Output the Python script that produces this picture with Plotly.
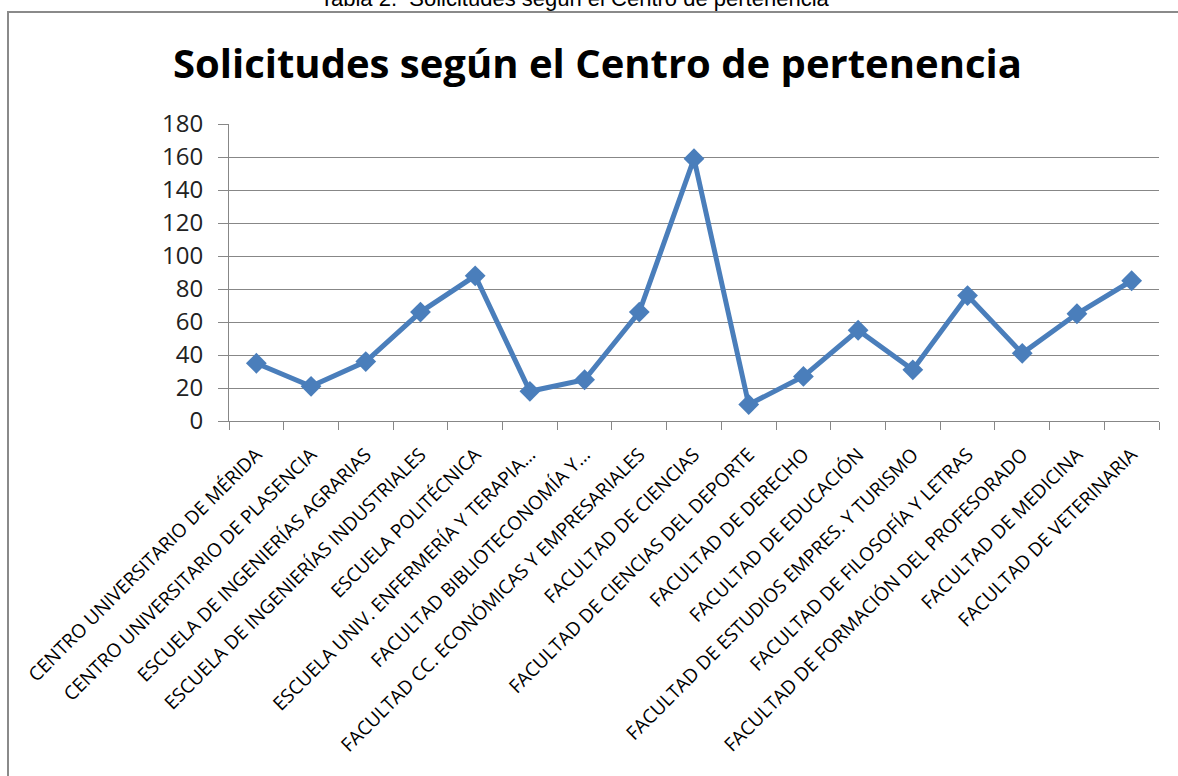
import plotly.graph_objects as go

categories = [
    "CENTRO UNIVERSITARIO DE MÉRIDA",
    "CENTRO UNIVERSITARIO DE PLASENCIA",
    "ESCUELA DE INGENIERÍAS AGRARIAS",
    "ESCUELA DE INGENIERÍAS INDUSTRIALES",
    "ESCUELA POLITÉCNICA",
    "ESCUELA UNIV. ENFERMERÍA Y TERAPIA...",
    "FACULTAD BIBLIOTECONOMÍA Y...",
    "FACULTAD CC. ECONÓMICAS Y EMPRESARIALES",
    "FACULTAD DE CIENCIAS",
    "FACULTAD DE CIENCIAS DEL DEPORTE",
    "FACULTAD DE DERECHO",
    "FACULTAD DE EDUCACIÓN",
    "FACULTAD DE ESTUDIOS EMPRES. Y TURISMO",
    "FACULTAD DE FILOSOFÍA Y LETRAS",
    "FACULTAD DE FORMACIÓN DEL PROFESORADO",
    "FACULTAD DE MEDICINA",
    "FACULTAD DE VETERINARIA",
]
solicitudes = [35, 21, 36, 66, 88, 18, 25, 66, 159, 10, 27, 55, 31, 76, 41, 65, 85]
y_ticks = [0, 20, 40, 60, 80, 100, 120, 140, 160, 180]

W, H = 1178, 776
L, R, T, B = 229, 19, 124, 355
pw, ph = W - L - R, H - T - B

def px_x(p):
    return (p - L) / pw

def px_y(p):
    return (H - B - p) / ph

grid = "#878787"
blue = "#4A7EBB"

fig = go.Figure()
fig.add_trace(go.Scatter(
    x=categories, y=solicitudes, mode="lines+markers",
    line=dict(color=blue, width=5),
    marker=dict(symbol="diamond", size=16, color=blue),
    showlegend=False,
))

fig.update_layout(
    width=W, height=H,
    margin=dict(l=L, r=R, t=T, b=B),
    paper_bgcolor="white", plot_bgcolor="white",
    font=dict(family="Open Sans", color="black"),
    xaxis=dict(
        type="category", range=[-0.5, len(categories) - 0.5],
        tickson="boundaries", ticks="outside", ticklen=8, tickcolor=grid,
        showline=True, linecolor=grid, linewidth=1, showgrid=False,
        tickangle=-45, tickfont=dict(family="Open Sans", size=19, color="black"),
        ticklabelstandoff=14, automargin=False,
    ),
    yaxis=dict(
        range=[0, 180], tickvals=y_ticks, ticks="outside", ticklen=10,
        tickcolor=grid, showline=True, linecolor=grid, linewidth=1,
        showgrid=True, gridcolor=grid, gridwidth=1, zeroline=False,
        tickfont=dict(family="Open Sans", size=24, color="#222"),
        ticklabelstandoff=10, automargin=False,
    ),
    shapes=[dict(
        type="rect", xref="paper", yref="paper",
        x0=px_x(8), x1=px_x(1195), y0=px_y(800), y1=px_y(12),
        line=dict(color="#8a8a8a", width=2), fillcolor="rgba(0,0,0,0)",
        layer="below",
    )],
    annotations=[
        dict(
            text="<b>Solicitudes según el Centro de pertenencia</b>",
            xref="paper", yref="paper", x=px_x(597), y=px_y(62),
            xanchor="center", yanchor="middle", showarrow=False,
            font=dict(family="Open Sans", size=40, color="black"),
        ),
        dict(
            text="Tabla 2.  Solicitudes según el Centro de pertenencia",
            xref="paper", yref="paper", x=px_x(575), y=px_y(-1.5),
            xanchor="center", yanchor="middle", showarrow=False,
            font=dict(family="Liberation Sans", size=22, color="black"),
        ),
    ],
)

fig.write_html(
    "out.html",
    config={"displayModeBar": False},
    post_script="document.body.style.margin='0';document.body.style.overflow='hidden';",
)
